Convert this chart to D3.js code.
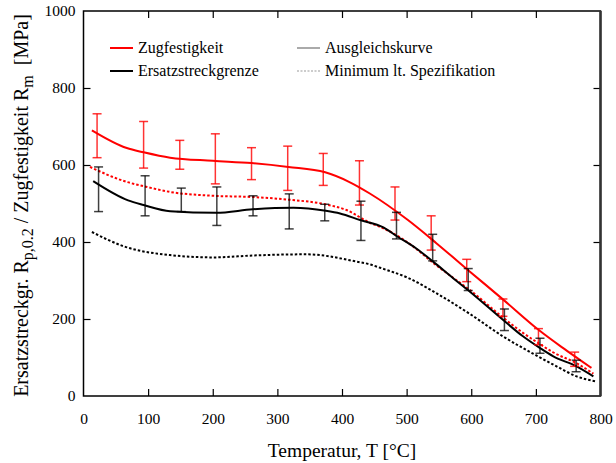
<!DOCTYPE html>
<html>
<head>
<meta charset="utf-8">
<script src="https://cdn.jsdelivr.net/npm/d3@7"></script>
<style>
  body { margin: 0; background: #fff; }
</style>
</head>
<body>
<script>
// Fitted curves (temperature °C, MPa)
const rmFit = [[13,690],[67,644],[93,633],[134,619],[200,611],[260,605],[317,595],[374,581],[410,557],[443,526],[502,457],[546,397],[598,323],[649,251],[704,172],[740,127],[768,94],[786,73]];
const rpFit = [[15,558],[69,508],[93,496],[134,480],[205,476],[262,485],[325,489],[375,481],[397,474],[428,457],[464,438],[485,415],[515,383],[541,349],[572,306],[598,271],[649,198],[680,155],[706,125],[727,103],[763,77],[789,51]];
const rmMin = [[10,595],[67,556],[93,545],[134,530],[201,520],[260,517],[317,510],[374,498],[407,483],[443,450],[459,439],[485,417],[515,382],[541,346],[572,307],[598,275],[649,204],[680,164],[706,135],[727,113],[763,85],[789,58]];
const rpMin = [[13,426],[62,389],[134,366],[201,360],[263,365],[345,368],[423,349],[443,342],[459,333],[502,307],[546,267],[598,213],[649,155],[701,105],[732,77],[763,51],[793,38]];

// Scatter ranges of the test data
const testTemps = [21, 93, 149, 204, 260, 316, 371, 427, 482, 538, 593, 649, 704, 760];
const rmUpper = [733, 713, 664, 681, 645, 649, 630, 611, 543, 468, 355, 252, 175, 114];
const rmLower = [619, 592, 589, 551, 562, 534, 547, 496, 457, 379, 297, 207, 133, 77];
const rpUpper = [595, 572, 540, 543, 520, 525, 498, 506, 477, 420, 331, 226, 150, 93];
const rpLower = [479, 468, 479, 443, 468, 434, 455, 404, 408, 351, 274, 170, 111, 63];

const xTicks = [0, 100, 200, 300, 400, 500, 600, 700, 800];
const yTicks = [0, 200, 400, 600, 800, 1000];

const width = 616, height = 463;
const plot = { left: 83.5, right: 600.5, top: 11, bottom: 396 };
const serif = "Liberation Serif, Times New Roman, serif";

const svg = d3.select("body").append("svg")
    .attr("width", width)
    .attr("height", height)
    .attr("font-family", serif);

const x = d3.scaleLinear().domain([0, 800]).range([plot.left, plot.right]);
const y = d3.scaleLinear().domain([0, 1000]).range([plot.bottom, plot.top]);

// Axes: ticks point inward, end ticks dropped (frame covers them)
function trimEnds(g) {
    g.attr("font-family", serif);
    g.select(".domain").remove();
    g.selectAll(".tick line").attr("stroke-width", 1.2)
        .filter((d, i, n) => i === 0 || i === n.length - 1).remove();
    g.selectAll(".tick text").attr("font-size", 15.5).attr("fill", "#000");
}

svg.append("g")
    .attr("transform", `translate(0,${plot.bottom})`)
    .call(d3.axisBottom(x).tickValues(xTicks).tickFormat(d3.format("d"))
        .tickSizeInner(-7).tickSizeOuter(0).tickPadding(17))
    .call(trimEnds);

svg.append("g")
    .attr("transform", `translate(0,${plot.top})`)
    .call(d3.axisTop(x).tickValues(xTicks).tickSizeInner(-7).tickSizeOuter(0).tickFormat(""))
    .call(trimEnds);

svg.append("g")
    .attr("transform", `translate(${plot.left},0)`)
    .call(d3.axisLeft(y).tickValues(yTicks).tickFormat(d3.format("d"))
        .tickSizeInner(-7).tickSizeOuter(0).tickPadding(8))
    .call(trimEnds);

svg.append("g")
    .attr("transform", `translate(${plot.right},0)`)
    .call(d3.axisRight(y).tickValues(yTicks).tickSizeInner(-7).tickSizeOuter(0).tickFormat(""))
    .call(trimEnds);

// Frame
svg.append("rect")
    .attr("x", plot.left).attr("y", plot.top)
    .attr("width", plot.right - plot.left)
    .attr("height", plot.bottom - plot.top)
    .attr("fill", "none")
    .attr("stroke", "#000")
    .attr("stroke-width", 1.5);

svg.append("line")
    .attr("x1", plot.right).attr("x2", plot.right)
    .attr("y1", plot.top).attr("y2", plot.bottom)
    .attr("stroke", "#333")
    .attr("stroke-width", 2.5);

const line = d3.line().x(d => x(d[0])).y(d => y(d[1])).curve(d3.curveMonotoneX);

const curves = [
    { data: rpMin, color: "#000", dash: "2.5,2" },
    { data: rmMin, color: "#f00", dash: "2.5,2" },
    { data: rpFit, color: "#000", dash: null },
    { data: rmFit, color: "#f00", dash: null }
];

svg.selectAll(".curve")
    .data(curves)
    .enter()
    .append("path")
    .attr("class", "curve")
    .attr("d", d => line(d.data))
    .attr("fill", "none")
    .attr("stroke", d => d.color)
    .attr("stroke-width", 2)
    .attr("stroke-dasharray", d => d.dash);

// Error bars
function errorBars(upper, lower, color, shift) {
    const rows = testTemps.map((t, i) => ({ t, hi: upper[i], lo: lower[i] }));
    const g = svg.append("g")
        .attr("stroke", color)
        .attr("stroke-width", 1.5)
        .attr("transform", `translate(${shift},0)`);
    const bar = g.selectAll("g").data(rows).enter().append("g");
    bar.append("line")
        .attr("x1", d => x(d.t)).attr("x2", d => x(d.t))
        .attr("y1", d => y(d.hi)).attr("y2", d => y(d.lo));
    bar.append("line")
        .attr("x1", d => x(d.t) - 4.5).attr("x2", d => x(d.t) + 4.5)
        .attr("y1", d => y(d.hi)).attr("y2", d => y(d.hi));
    bar.append("line")
        .attr("x1", d => x(d.t) - 4.5).attr("x2", d => x(d.t) + 4.5)
        .attr("y1", d => y(d.lo)).attr("y2", d => y(d.lo));
}
errorBars(rmUpper, rmLower, "rgba(255,0,0,0.8)", 0);
errorBars(rpUpper, rpLower, "rgba(0,0,0,0.75)", 1.5);

// Legend
const legend = [
    { label: "Zugfestigkeit", color: "#f00", dash: null, lx: 110, ly: 48 },
    { label: "Ersatzstreckgrenze", color: "#000", dash: null, lx: 110, ly: 71 },
    { label: "Ausgleichskurve", color: "#aaa", dash: null, lx: 297, ly: 48 },
    { label: "Minimum lt. Spezifikation", color: "#999", dash: "2,1.5", lx: 297, ly: 71 }
];

const lg = svg.selectAll(".legend")
    .data(legend)
    .enter()
    .append("g")
    .attr("class", "legend")
    .attr("transform", d => `translate(${d.lx},${d.ly})`);

lg.append("line")
    .attr("x1", 0).attr("x2", 23)
    .attr("stroke", d => d.color)
    .attr("stroke-width", d => d.dash ? 1.2 : 2)
    .attr("stroke-dasharray", d => d.dash);

lg.append("text")
    .attr("x", 28)
    .attr("dy", "0.33em")
    .attr("font-size", 16)
    .text(d => d.label);

// Axis titles
svg.append("text")
    .attr("x", (plot.left + plot.right) / 2)
    .attr("y", 457)
    .attr("text-anchor", "middle")
    .attr("font-size", 19.5)
    .text("Temperatur, T [°C]");

const yt = svg.append("text")
    .attr("transform", `translate(28,${(plot.top + plot.bottom) / 2 + 2}) rotate(-90)`)
    .attr("text-anchor", "middle")
    .attr("font-size", 20);
yt.append("tspan").text("Ersatzstreckgr. R");
yt.append("tspan").attr("dy", 5).attr("font-size", 16).text("p,0.2");
yt.append("tspan").attr("dy", -5).text(" / Zugfestigkeit R");
yt.append("tspan").attr("dy", 5).attr("font-size", 16).text("m");
yt.append("tspan").attr("dy", -5).text("\u00a0 [MPa]");
</script>
</body>
</html>
